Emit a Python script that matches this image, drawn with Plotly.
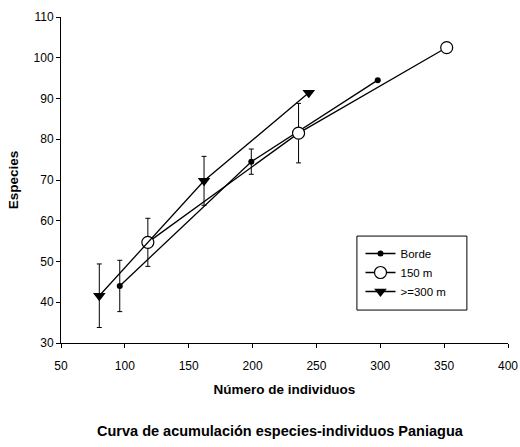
import plotly.graph_objects as go

# Species accumulation data (individuals vs. species) for three distances
borde_x = [96, 199, 298]
borde_y = [44, 74.5, 94.5]
borde_err = [6.3, 3.1, None]

m150_x = [118, 236, 352]
m150_y = [54.7, 81.5, 102.5]
m150_err = [5.9, 7.3, None]

m300_x = [80, 162, 244]
m300_y = [41.6, 69.8, 91.4]
m300_err = [7.8, 6.0, None]

series_names = ["Borde", "150 m", ">=300 m"]

FONT = "Liberation Sans, Arial, sans-serif"

fig = go.Figure()


def err(vals):
    return dict(type="data", array=vals, visible=True, color="black",
                thickness=1, width=2.5)


fig.add_trace(go.Scatter(
    x=borde_x, y=borde_y, name=series_names[0], mode="lines+markers",
    line=dict(color="black", width=1.3),
    marker=dict(symbol="circle", size=6, color="black"),
    error_y=err(borde_err),
))
fig.add_trace(go.Scatter(
    x=m150_x, y=m150_y, name=series_names[1], mode="lines+markers",
    line=dict(color="black", width=1.3),
    marker=dict(symbol="circle", size=12, color="white",
                line=dict(color="black", width=1.2)),
    error_y=err(m150_err),
))
fig.add_trace(go.Scatter(
    x=m300_x, y=m300_y, name=series_names[2], mode="lines+markers",
    line=dict(color="black", width=1.3),
    marker=dict(symbol="triangle-down", size=11, color="black"),
    error_y=err(m300_err),
))

axis_common = dict(
    showline=True, linecolor="black", linewidth=1,
    ticks="outside", ticklen=4, tickcolor="black", tickwidth=1,
    showgrid=False, zeroline=False, mirror=False, automargin=False,
    tickfont=dict(family=FONT, size=12, color="black"),
)

fig.update_xaxes(range=[50, 400], dtick=50, tick0=50, ticklabelstandoff=8,
                 title=dict(text="<b>Número de individuos</b>", standoff=12,
                            font=dict(family=FONT, size=13.5, color="black")),
                 **axis_common)
fig.update_yaxes(range=[30, 110], dtick=10, tick0=30,
                 title=dict(text="<b>Especies</b>", standoff=11,
                            font=dict(family=FONT, size=13.5, color="black")),
                 **axis_common)

fig.add_annotation(
    text="<b>Curva de acumulación especies-individuos Paniagua</b>",
    xref="paper", yref="paper", x=0.49, y=-0.27, xanchor="center",
    yanchor="middle", showarrow=False,
    font=dict(family=FONT, size=14.5, color="black"),
)

# Legend frame
fig.add_shape(type="rect", xref="paper", yref="paper",
              x0=0.662, x1=0.908, y0=0.101, y1=0.328,
              line=dict(color="black", width=1), fillcolor="rgba(0,0,0,0)")

fig.update_layout(
    width=520, height=447,
    margin=dict(l=61, r=12, t=17, b=104),
    paper_bgcolor="white", plot_bgcolor="white",
    showlegend=True,
    legend=dict(x=0.67, y=0.319, xanchor="left", yanchor="top",
                borderwidth=0, bgcolor="rgba(0,0,0,0)",
                font=dict(family=FONT, size=11.5, color="black"),
                tracegroupgap=0, itemwidth=30),
)

fig.write_html("out.html")
